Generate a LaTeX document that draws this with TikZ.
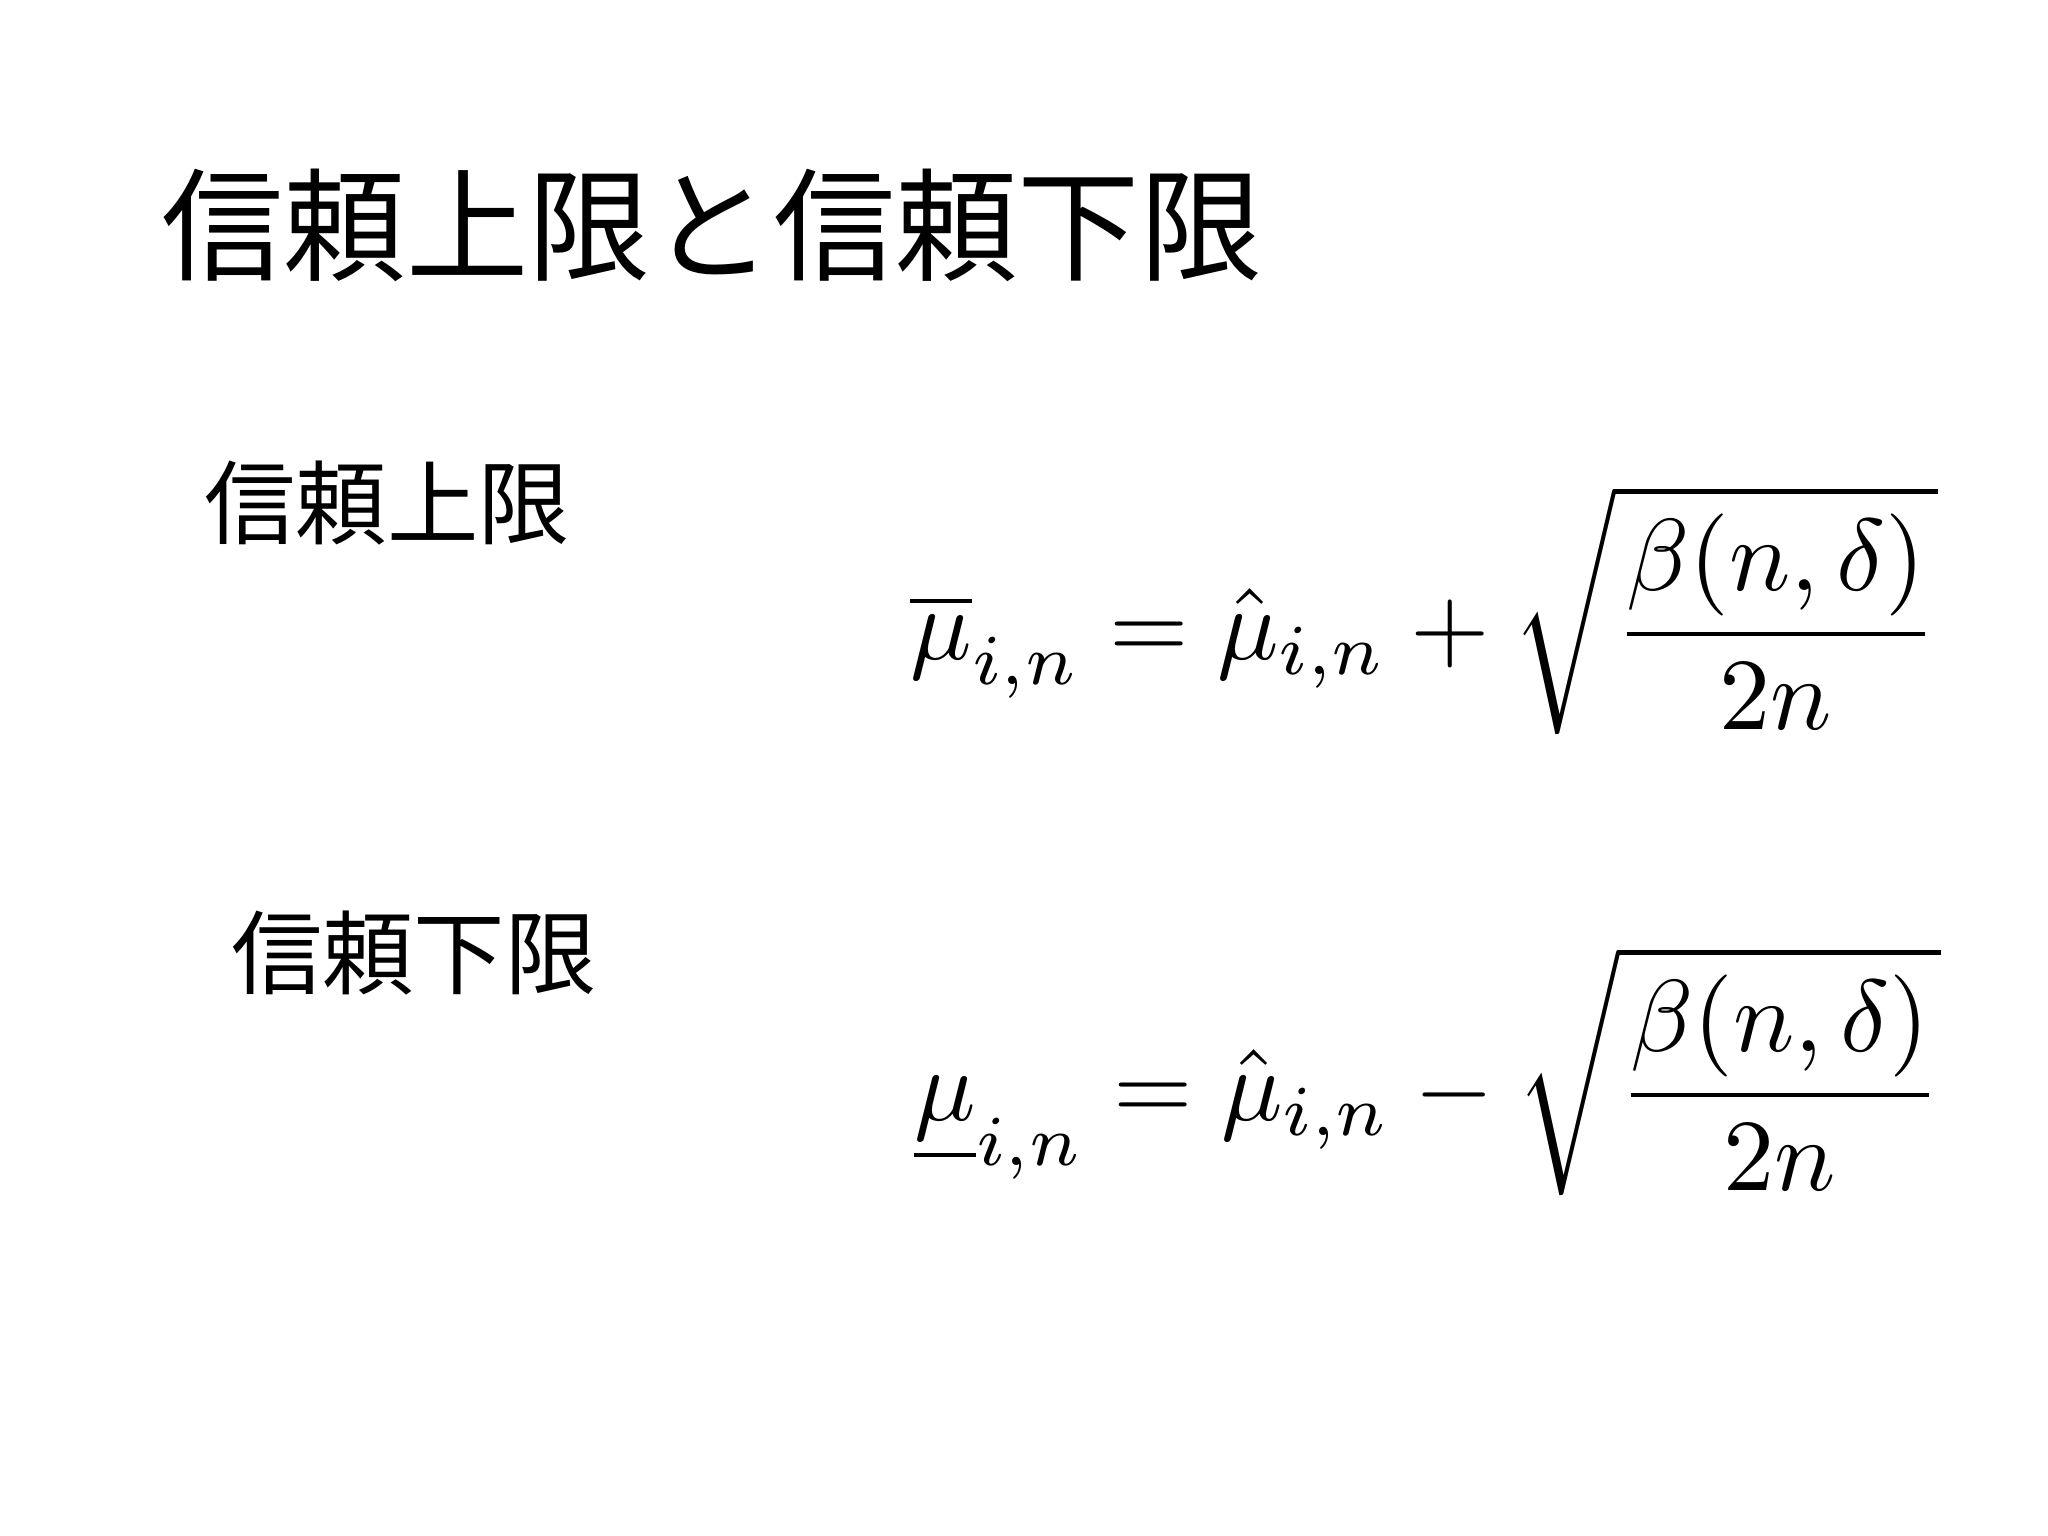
\documentclass[tikz,border=0pt]{standalone}
\usepackage{fontspec}
\usepackage{graphicx}
\newfontfamily\cjk{Noto Sans CJK JP}
\tikzset{jp/.style={font=\cjk, inner sep=0pt}, eq/.style={inner sep=0pt}}
\begin{document}
\begin{tikzpicture}
\useasboundingbox (0,0) rectangle (20.48,15.36);
\fill[white] (0,0) rectangle (20.48,15.36);
\node[jp, font=\cjk\fontsize{34.8pt}{40pt}\selectfont] (title) at (7.12,13.11) {信頼上限と信頼下限};
\node[jp, font=\cjk\fontsize{26pt}{30pt}\selectfont] (ucb) at (3.87,10.33) {信頼上限};
\node[jp, font=\cjk\fontsize{26pt}{30pt}\selectfont] (lcb) at (4.14,5.83) {信頼下限};
\node[eq] (equ) at (14.24,9.26) {\resizebox{10.27cm}{!}{$\displaystyle \overline{\mu}_{i,n}=\hat{\mu}_{i,n}+\sqrt{\frac{\beta(n,\delta)}{2n}}$}};
\node[eq] (eql) at (14.28,4.65) {\resizebox{10.27cm}{!}{$\displaystyle \underline{\mu}_{i,n}=\hat{\mu}_{i,n}-\sqrt{\frac{\beta(n,\delta)}{2n}}$}};
\end{tikzpicture}
\end{document}
